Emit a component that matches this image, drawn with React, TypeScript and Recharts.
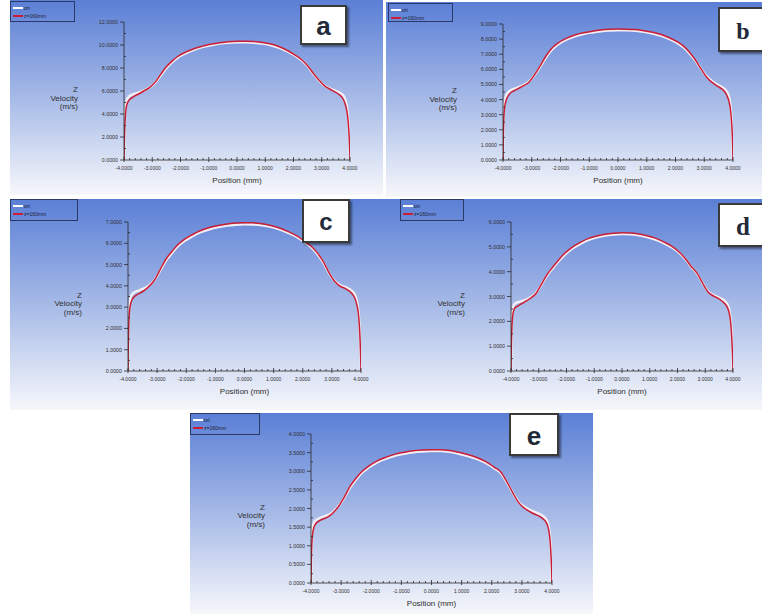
import React from 'react';
import { LineChart, Line, XAxis, YAxis } from 'recharts';

// ---------- data ----------
const POSITIONS = [-4.0, -3.99, -3.97, -3.94, -3.9, -3.85, -3.78, -3.7, -3.6, -3.45, -3.3, -3.1, -2.9, -2.7, -2.5, -2.3, -2.1, -1.8, -1.5, -1.2, -0.9, -0.6, -0.3, 0, 0.3, 0.6, 0.9, 1.2, 1.5, 1.8, 2.1, 2.3, 2.5, 2.7, 2.9, 3.1, 3.3, 3.45, 3.6, 3.7, 3.78, 3.85, 3.9, 3.94, 3.97, 3.99, 4.0];

const X_TICKS = [-4, -3.8, -3.6, -3.4, -3.2, -3, -2.8, -2.6, -2.4, -2.2, -2, -1.8, -1.6, -1.4, -1.2, -1, -0.8, -0.6, -0.4, -0.2, 0, 0.2, 0.4, 0.6, 0.8, 1, 1.2, 1.4, 1.6, 1.8, 2, 2.2, 2.4, 2.6, 2.8, 3, 3.2, 3.4, 3.6, 3.8, 4];

const SERIES_NAMES = ['ort', 'z=160mm'];
const PANEL_LETTERS = ['a', 'b', 'c', 'd', 'e'];

const A_ORT = [0, 1.8, 3.5, 4.7, 5.2, 5.45, 5.6, 5.7, 5.78, 5.9, 6.05, 6.3, 6.7, 7.35, 8.0, 8.5, 8.9, 9.3, 9.6, 9.83, 10.0, 10.12, 10.2, 10.23, 10.23, 10.2, 10.12, 9.98, 9.75, 9.42, 9.0, 8.65, 8.15, 7.5, 6.92, 6.45, 6.2, 6.05, 5.9, 5.75, 5.55, 5.1, 4.5, 3.5, 2.2, 1.0, 0];
const A_Z = [0, 1.5, 3.0, 4.2, 4.8, 5.1, 5.3, 5.45, 5.6, 5.78, 6.0, 6.3, 6.75, 7.45, 8.1, 8.6, 9.0, 9.4, 9.7, 9.92, 10.08, 10.2, 10.28, 10.32, 10.33, 10.3, 10.22, 10.08, 9.85, 9.5, 9.05, 8.7, 8.2, 7.55, 6.95, 6.45, 6.15, 5.95, 5.72, 5.5, 5.2, 4.7, 4.1, 3.2, 2.0, 0.9, 0];

const B_ORT = [0, 1.7, 3.1, 3.85, 4.2, 4.4, 4.55, 4.65, 4.72, 4.83, 4.95, 5.18, 5.62, 6.18, 6.8, 7.3, 7.63, 7.96, 8.18, 8.34, 8.44, 8.52, 8.57, 8.59, 8.58, 8.55, 8.48, 8.37, 8.22, 8.0, 7.7, 7.42, 7.02, 6.55, 6.0, 5.5, 5.18, 5.0, 4.85, 4.72, 4.55, 4.25, 3.8, 3.0, 2.0, 1.0, 0];
const B_Z = [0, 1.5, 2.8, 3.5, 3.9, 4.15, 4.35, 4.5, 4.6, 4.75, 4.9, 5.15, 5.65, 6.25, 6.9, 7.4, 7.72, 8.05, 8.27, 8.42, 8.52, 8.6, 8.65, 8.67, 8.66, 8.63, 8.56, 8.45, 8.3, 8.07, 7.78, 7.5, 7.1, 6.6, 6.0, 5.45, 5.1, 4.9, 4.72, 4.55, 4.3, 3.95, 3.5, 2.8, 1.9, 0.9, 0];

const C_ORT = [0, 1.4, 2.6, 3.25, 3.5, 3.62, 3.7, 3.75, 3.8, 3.88, 4.0, 4.25, 4.7, 5.18, 5.52, 5.84, 6.07, 6.32, 6.52, 6.66, 6.76, 6.83, 6.87, 6.89, 6.88, 6.84, 6.77, 6.65, 6.49, 6.3, 6.0, 5.8, 5.5, 5.1, 4.6, 4.22, 4.02, 3.95, 3.85, 3.75, 3.62, 3.35, 2.95, 2.35, 1.5, 0.7, 0];
const C_Z = [0, 1.2, 2.3, 2.9, 3.2, 3.38, 3.5, 3.58, 3.65, 3.78, 3.95, 4.25, 4.75, 5.25, 5.6, 5.92, 6.15, 6.4, 6.6, 6.74, 6.84, 6.91, 6.95, 6.97, 6.96, 6.92, 6.84, 6.72, 6.55, 6.35, 6.05, 5.85, 5.55, 5.15, 4.62, 4.2, 3.97, 3.88, 3.75, 3.62, 3.45, 3.15, 2.8, 2.2, 1.4, 0.6, 0];

const D_ORT = [0, 1.1, 2.0, 2.45, 2.65, 2.72, 2.76, 2.79, 2.82, 2.88, 2.97, 3.14, 3.48, 3.84, 4.13, 4.4, 4.64, 4.92, 5.12, 5.28, 5.38, 5.45, 5.49, 5.51, 5.5, 5.46, 5.39, 5.29, 5.15, 4.97, 4.72, 4.48, 4.18, 3.93, 3.55, 3.2, 3.06, 2.98, 2.9, 2.82, 2.72, 2.55, 2.25, 1.75, 1.1, 0.5, 0];
const D_Z = [0, 0.9, 1.7, 2.2, 2.45, 2.55, 2.6, 2.65, 2.72, 2.82, 2.93, 3.12, 3.5, 3.88, 4.18, 4.45, 4.7, 4.98, 5.18, 5.34, 5.44, 5.51, 5.55, 5.57, 5.56, 5.52, 5.45, 5.35, 5.2, 5.02, 4.75, 4.5, 4.2, 3.95, 3.55, 3.18, 3.02, 2.93, 2.82, 2.72, 2.6, 2.4, 2.1, 1.6, 1.0, 0.45, 0];

const E_ORT = [0, 0.7, 1.25, 1.5, 1.62, 1.68, 1.72, 1.75, 1.78, 1.82, 1.89, 2.05, 2.28, 2.56, 2.78, 2.96, 3.09, 3.24, 3.34, 3.42, 3.47, 3.51, 3.53, 3.54, 3.54, 3.52, 3.47, 3.41, 3.33, 3.22, 3.07, 2.95, 2.7, 2.42, 2.17, 2.04, 1.95, 1.9, 1.85, 1.8, 1.74, 1.64, 1.47, 1.2, 0.8, 0.35, 0];
const E_Z = [0, 0.6, 1.1, 1.35, 1.5, 1.58, 1.64, 1.68, 1.72, 1.77, 1.86, 2.04, 2.3, 2.6, 2.82, 3.0, 3.13, 3.28, 3.38, 3.46, 3.51, 3.55, 3.57, 3.58, 3.58, 3.56, 3.51, 3.45, 3.37, 3.26, 3.1, 2.98, 2.72, 2.42, 2.15, 2.0, 1.9, 1.84, 1.78, 1.72, 1.66, 1.55, 1.38, 1.1, 0.7, 0.3, 0];

const A_Y_MAJOR = [0, 2, 4, 6, 8, 10, 12];
const A_Y_MINOR = [1, 3, 5, 7, 9, 11];
const B_Y_MAJOR = [0, 1, 2, 3, 4, 5, 6, 7, 8, 9];
const B_Y_MINOR = [0.5, 1.5, 2.5, 3.5, 4.5, 5.5, 6.5, 7.5, 8.5];
const C_Y_MAJOR = [0, 1, 2, 3, 4, 5, 6, 7];
const C_Y_MINOR = [0.5, 1.5, 2.5, 3.5, 4.5, 5.5, 6.5];
const D_Y_MAJOR = [0, 1, 2, 3, 4, 5, 6];
const D_Y_MINOR = [0.5, 1.5, 2.5, 3.5, 4.5, 5.5];
const E_Y_MAJOR = [0, 0.5, 1, 1.5, 2, 2.5, 3, 3.5, 4];
const E_Y_MINOR = [0.25, 0.75, 1.25, 1.75, 2.25, 2.75, 3.25, 3.75];

// ---------- layout ----------
const PANELS = [
  { letter: PANEL_LETTERS[0], ort: A_ORT, z: A_Z, yMajor: A_Y_MAJOR, yMinor: A_Y_MINOR,
    box: { x: 10, y: 0, w: 373, h: 195 }, plot: { left: 114, top: 22, right: 340, bottom: 160 },
    legend: { x: 0, y: 1, w: 65, h: 21 }, lbox: { x: 290, y: 5, w: 47, h: 40 }, lfont: 'sans', lsize: 26 },
  { letter: PANEL_LETTERS[1], ort: B_ORT, z: B_Z, yMajor: B_Y_MAJOR, yMinor: B_Y_MINOR,
    box: { x: 386, y: 2, w: 376, h: 195 }, plot: { left: 117, top: 22, right: 347, bottom: 158 },
    legend: { x: 2, y: 1, w: 65, h: 19 }, lbox: { x: 332, y: 5, w: 50, h: 45 }, lfont: 'serif', lsize: 24 },
  { letter: PANEL_LETTERS[2], ort: C_ORT, z: C_Z, yMajor: C_Y_MAJOR, yMinor: C_Y_MINOR,
    box: { x: 10, y: 199, w: 370, h: 211 }, plot: { left: 118, top: 23, right: 351, bottom: 172 },
    legend: { x: 0, y: 0, w: 68, h: 22 }, lbox: { x: 292, y: 0, w: 48, h: 44 }, lfont: 'sans', lsize: 24 },
  { letter: PANEL_LETTERS[3], ort: D_ORT, z: D_Z, yMajor: D_Y_MAJOR, yMinor: D_Y_MINOR,
    box: { x: 380, y: 199, w: 382, h: 211 }, plot: { left: 131, top: 23, right: 353, bottom: 172 },
    legend: { x: 20, y: 0, w: 64, h: 22 }, lbox: { x: 338, y: 4, w: 50, h: 44 }, lfont: 'serif', lsize: 25 },
  { letter: PANEL_LETTERS[4], ort: E_ORT, z: E_Z, yMajor: E_Y_MAJOR, yMinor: E_Y_MINOR,
    box: { x: 190, y: 413, w: 403, h: 201 }, plot: { left: 121, top: 21, right: 362, bottom: 170 },
    legend: { x: 0, y: 0, w: 70, h: 22 }, lbox: { x: 319, y: 0, w: 50, h: 43 }, lfont: 'sans', lsize: 26 },
];

const SANS = '"Liberation Sans", Arial, sans-serif';
const SERIF = '"Liberation Serif", "DejaVu Serif", serif';
const AXIS_COLOR = '#2a2a2a';
const TEXT_COLOR = '#303030';

function isInt(v: number) {
  return Math.abs(v - Math.round(v)) < 1e-6;
}

function XTick(props: any) {
  const { x, y, payload } = props;
  const v = payload.value as number;
  const major = isInt(v);
  return (
    <g>
      <line x1={x} x2={x} y1={major ? y - 3 : y} y2={major ? y + 2 : y - 2} stroke={AXIS_COLOR} strokeWidth={0.8} />
      {major && (
        <text x={x} y={y + 10} textAnchor="middle" fontSize={5} fontFamily={SANS} fill={TEXT_COLOR}>
          {v.toFixed(4)}
        </text>
      )}
    </g>
  );
}

function makeYTick(majors: number[]) {
  return (props: any) => {
    const { x, y, payload } = props;
    const v = payload.value as number;
    const major = majors.some((m) => Math.abs(m - v) < 1e-6);
    return (
      <g>
        <line x1={major ? x - 4 : x} x2={major ? x : x + 2} y1={y} y2={y} stroke={AXIS_COLOR} strokeWidth={0.8} />
        {major && (
          <text x={x - 6} y={y + 2} textAnchor="end" fontSize={5.3} fontFamily={SANS} fill={TEXT_COLOR}>
            {v.toFixed(4)}
          </text>
        )}
      </g>
    );
  };
}

function Panel({ p }: { p: any }) {
  const data = POSITIONS.map((x, i) => ({ x, ort: p.ort[i], z: p.z[i] }));
  const YW = 40;
  const XH = 20;
  const margin = {
    left: p.plot.left - YW,
    top: p.plot.top,
    right: p.box.w - p.plot.right,
    bottom: p.box.h - p.plot.bottom - XH,
  };
  const yTicks = [...p.yMajor, ...p.yMinor].sort((a: number, b: number) => a - b);
  const yMax = p.yMajor[p.yMajor.length - 1];
  const midY = (p.plot.top + p.plot.bottom) / 2;
  const midX = (p.plot.left + p.plot.right) / 2;
  return (
    <div
      style={{
        position: 'absolute',
        left: p.box.x,
        top: p.box.y,
        width: p.box.w,
        height: p.box.h,
        background: 'linear-gradient(to bottom, #5b7fd6 0%, #a6bae7 50%, #f6f7fb 100%)',
      }}
    >
      <div style={{ position: 'absolute', left: 0, top: 0 }}>
        <LineChart width={p.box.w} height={p.box.h} margin={margin} data={data}>
          <XAxis
            dataKey="x"
            type="number"
            domain={[-4, 4]}
            ticks={X_TICKS}
            interval={0}
            tickLine={false}
            tickSize={0}
            tickMargin={0}
            height={XH}
            axisLine={{ stroke: AXIS_COLOR, strokeWidth: 0.8 }}
            tick={XTick}
            allowDataOverflow
          />
          <YAxis
            type="number"
            domain={[0, yMax]}
            ticks={yTicks}
            interval={0}
            tickLine={false}
            tickSize={0}
            tickMargin={0}
            width={YW}
            axisLine={{ stroke: AXIS_COLOR, strokeWidth: 0.8 }}
            tick={makeYTick(p.yMajor)}
            allowDataOverflow
          />
          <Line dataKey="ort" name={SERIES_NAMES[0]} type="monotone" stroke="#f3eef3" strokeWidth={2.4} dot={false} isAnimationActive={false} />
          <Line dataKey="z" name={SERIES_NAMES[1]} type="monotone" stroke="#c81d35" strokeWidth={1.5} dot={false} isAnimationActive={false} />
        </LineChart>
      </div>

      {/* legend */}
      <div
        style={{
          position: 'absolute',
          left: p.legend.x,
          top: p.legend.y,
          width: p.legend.w,
          height: p.legend.h,
          border: '1px solid #2b3968',
          boxSizing: 'border-box',
          fontFamily: SANS,
          fontSize: 5,
          color: '#1c2030',
        }}
      >
        <div style={{ position: 'absolute', left: 2, top: 5, width: 10, height: 1.5, background: '#ffffff' }} />
        <span style={{ position: 'absolute', left: 13, top: 3, lineHeight: '6px', whiteSpace: 'nowrap' }}>{SERIES_NAMES[0]}</span>
        <div style={{ position: 'absolute', left: 2, top: 13, width: 10, height: 1.5, background: '#c81d35' }} />
        <span style={{ position: 'absolute', left: 13, top: 11, lineHeight: '6px', whiteSpace: 'nowrap' }}>{SERIES_NAMES[1]}</span>
      </div>

      {/* letter box */}
      <div
        style={{
          position: 'absolute',
          left: p.lbox.x,
          top: p.lbox.y,
          width: p.lbox.w,
          height: p.lbox.h,
          background: '#ffffff',
          border: '2px solid #3a3a3a',
          boxSizing: 'border-box',
          boxShadow: '2px 2px 2px rgba(0,0,0,0.45)',
          display: 'flex',
          alignItems: 'center',
          justifyContent: 'center',
          fontFamily: p.lfont === 'serif' ? SERIF : SANS,
          fontWeight: 'bold',
          fontSize: p.lsize,
          color: '#222a3a',
          lineHeight: 1,
        }}
      >
        <span style={{ marginTop: 2 }}>{p.letter}</span>
      </div>

      {/* y label */}
      <div
        style={{
          position: 'absolute',
          right: p.box.w - (p.plot.left - 46),
          top: midY + 8 - 13,
          textAlign: 'right',
          fontFamily: SANS,
          fontSize: 8,
          lineHeight: '8.5px',
          color: TEXT_COLOR,
          whiteSpace: 'nowrap',
        }}
      >
        <div>Z</div>
        <div>Velocity</div>
        <div>(m/s)</div>
      </div>

      {/* x label */}
      <div
        style={{
          position: 'absolute',
          left: midX,
          top: p.plot.bottom + 20,
          transform: 'translate(-50%, -50%)',
          fontFamily: SANS,
          fontSize: 8,
          color: TEXT_COLOR,
          whiteSpace: 'nowrap',
        }}
      >
        Position (mm)
      </div>
    </div>
  );
}

export default function App() {
  return (
    <div style={{ position: 'relative', width: 762, height: 614, background: '#ffffff', overflow: 'hidden' }}>
      <style>{'body{margin:0}'}</style>
      {PANELS.map((p) => (
        <Panel key={p.letter} p={p} />
      ))}
    </div>
  );
}
